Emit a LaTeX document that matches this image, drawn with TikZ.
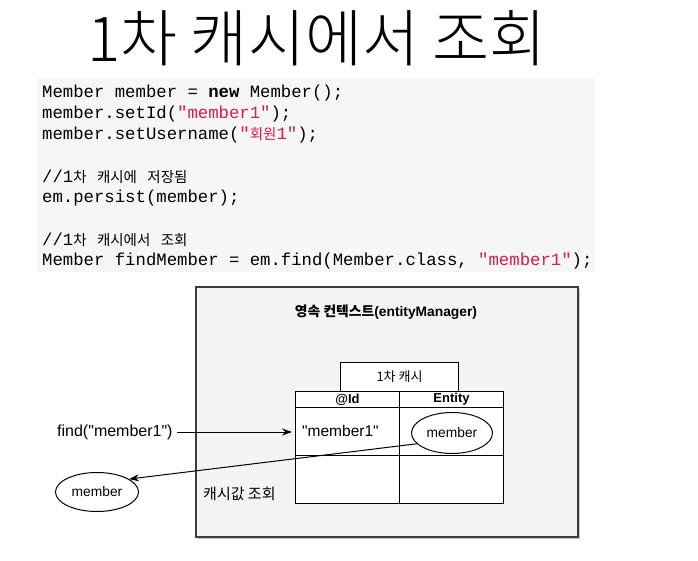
\documentclass[tikz,border=0pt]{standalone}
\usepackage{fontspec}
\setmainfont{Liberation Sans}[Ligatures=TeXOff]
\setmonofont{Liberation Mono}
\newfontfamily\kr{Noto Sans CJK KR}
\newfontfamily\krt{Noto Sans CJK KR Light}
\usetikzlibrary{shapes.geometric,arrows.meta,shadows}
\definecolor{codebg}{RGB}{246,246,246}
\definecolor{strred}{RGB}{214,30,72}
\definecolor{boxbg}{RGB}{244,244,244}
\definecolor{boxline}{RGB}{60,60,60}
\tikzset{
  codeline/.style={anchor=west,inner sep=0pt,font=\fontsize{17.3}{20}\ttfamily,text=black},
  cell/.style={draw=black,line width=1pt,fill=white},
  lbl/.style={inner sep=0pt,font=\fontsize{13}{15}\selectfont},
  ell/.style={draw=black,line width=1pt,fill=white,ellipse,inner sep=0pt},
  arr/.style={-{Stealth[length=10pt,width=7pt]},line width=1pt,black}
}
\newcommand{\ck}[1]{{\kr\fontsize{14.5}{18}\selectfont #1}}
\newcommand{\sred}[1]{\textcolor{strred}{#1}}
\begin{document}
\begin{tikzpicture}[x=1pt,y=-1pt]
\useasboundingbox (0,0) rectangle (698,561);
% title
\node[inner sep=0pt] (title) at (317,38) {{\krt\fontsize{62}{68}\selectfont 1차 캐시에서 조회}};
% code block
\fill[codebg] (37,78) rectangle (595,272);
\node[codeline] (c1) at (42,93) {Member member = \textbf{new} Member();};
\node[codeline] (c2) at (42,114) {member.setId(\sred{"member1"});};
\node[codeline] (c3) at (42,135) {member.setUsername(\sred{"\ck{회원}1"});};
\node[codeline] (c4) at (42,177) {//1\ck{차} \ck{캐시에} \ck{저장됨}};
\node[codeline] (c5) at (42,198) {em.persist(member);};
\node[codeline] (c6) at (42,240) {//1\ck{차} \ck{캐시에서} \ck{조회}};
\node[codeline] (c7) at (42,261) {Member findMember = em.find(Member.class, \sred{"member1"});};
% persistence context box
\fill[black!22] (198,289) rectangle (580,539);
\draw[draw=boxline,fill=boxbg,line width=1.4pt] (196,287) rectangle (578,537);
\node[lbl,font=\fontsize{13.8}{16}\bfseries] (pc) at (386,312) {{\kr 영속 컨텍스트}(entityManager)};
% cache tab
\node[cell,minimum width=118pt,minimum height=29pt,inner sep=0pt,anchor=north west] (tab) at (340,362) {};
\node[lbl] at (tab.center) {{\kr 1차 캐시}};
% table
\node[cell,minimum width=104pt,minimum height=16pt,inner sep=0pt,anchor=north west] (h1) at (295,391) {};
\node[cell,minimum width=104pt,minimum height=16pt,inner sep=0pt,anchor=north west] (h2) at (399,391) {};
\node[cell,minimum width=104pt,minimum height=48pt,inner sep=0pt,anchor=north west] (r1a) at (295,407) {};
\node[cell,minimum width=104pt,minimum height=48pt,inner sep=0pt,anchor=north west] (r1b) at (399,407) {};
\node[cell,minimum width=104pt,minimum height=48pt,inner sep=0pt,anchor=north west] (r2a) at (295,455) {};
\node[cell,minimum width=104pt,minimum height=48pt,inner sep=0pt,anchor=north west] (r2b) at (399,455) {};
\node[lbl,font=\fontsize{13}{15}\bfseries] at (h1.center) {@Id};
\node[lbl,font=\fontsize{13}{15}\bfseries] at (h2.center) {Entity};
\node[lbl,anchor=west,font=\fontsize{15.5}{17}\selectfont] (key) at (302,431) {"member1"};
\node[ell,minimum width=81pt,minimum height=41pt,font=\fontsize{13.8}{15}\selectfont] (ent) at (452,433) {member};
% left side
\node[lbl,anchor=west,font=\fontsize{16}{18}\selectfont] (find) at (57,432) {find("member1")};
\node[ell,minimum width=83pt,minimum height=39pt,font=\fontsize{13.8}{15}\selectfont] (res) at (97,492) {member};
\node[lbl,anchor=west,font=\fontsize{15}{17}\selectfont] (lookup) at (203,494) {{\kr 캐시값 조회}};
\coordinate (keyin) at (292,432);
\draw[arr] (find.east) ++(4,0) -- (keyin);
\draw[arr] (ent.197) -- (res.22);
\end{tikzpicture}
\end{document}
